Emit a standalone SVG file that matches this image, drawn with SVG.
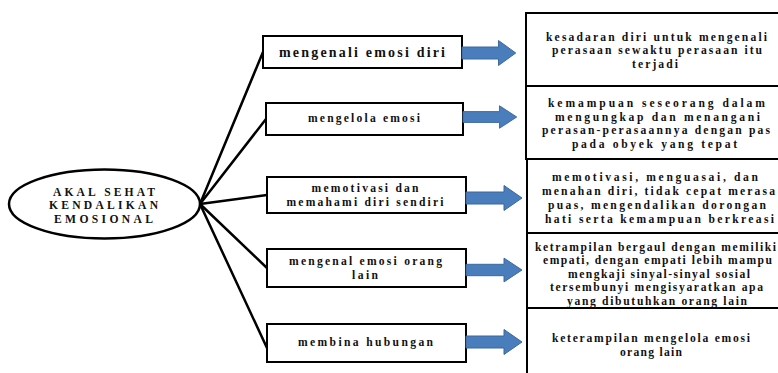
<svg xmlns="http://www.w3.org/2000/svg" width="778" height="373" viewBox="0 0 778 373">
<style>
.t{font-family:"Liberation Serif","Times New Roman",serif;font-weight:bold;fill:#111;text-anchor:middle}
.s{font-size:11.6px}
.m{font-size:14px}
.box{fill:#fff;stroke:#000;stroke-width:2}
.con{stroke:#000;stroke-width:2.5;fill:none;stroke-linecap:round}
.arr{fill:#4a7dbb;stroke:#3b679c;stroke-width:1}
</style>
<defs>
<path id="ar" d="M0,-6 H38 V-12.5 L56,0 L38,12.5 V6 H0 Z"/>
</defs>
<rect width="778" height="373" fill="#fff"/>
<g id="connectors">
<line class="con" x1="200" y1="204" x2="263" y2="52"/>
<line class="con" x1="200" y1="204" x2="266" y2="119"/>
<line class="con" x1="200" y1="204" x2="267" y2="195"/>
<line class="con" x1="200" y1="204" x2="267" y2="268"/>
<line class="con" x1="200" y1="204" x2="267" y2="348"/>
</g>
<g id="root">
<ellipse cx="104.5" cy="204" rx="95.5" ry="34.5" fill="#fff" stroke="#000" stroke-width="2.5"/>
<text class="t s" x="104" y="195.5" textLength="102" lengthAdjust="spacing">AKAL SEHAT</text>
<text class="t s" x="103.5" y="209" textLength="109" lengthAdjust="spacing">KENDALIKAN</text>
<text class="t s" x="103.5" y="222.5" textLength="99" lengthAdjust="spacing">EMOSIONAL</text>
</g>
<g id="n1">
<rect class="box" x="263" y="36" width="199" height="32"/>
<text class="t m" x="362" y="57" textLength="166" lengthAdjust="spacing">mengenali emosi diri</text>
</g>
<g id="n2">
<rect class="box" x="266" y="103" width="197" height="32"/>
<text class="t s" x="364" y="122" textLength="112" lengthAdjust="spacing">mengelola emosi</text>
</g>
<g id="n3">
<rect class="box" x="267" y="177" width="199" height="36"/>
<text class="t s" x="365" y="191.5" textLength="107" lengthAdjust="spacing">memotivasi dan</text>
<text class="t s" x="365" y="206" textLength="157" lengthAdjust="spacing">memahami diri sendiri</text>
</g>
<g id="n4">
<rect class="box" x="267" y="249" width="199" height="38"/>
<text class="t s" x="365.5" y="264.5" textLength="153" lengthAdjust="spacing">mengenal emosi orang</text>
<text class="t s" x="365" y="278.5" textLength="26" lengthAdjust="spacing">lain</text>
</g>
<g id="n5">
<rect class="box" x="267" y="324" width="199" height="38"/>
<text class="t s" x="365.5" y="346" textLength="135" lengthAdjust="spacing">membina hubungan</text>
</g>
<g id="arrows">
<use href="#ar" class="arr" transform="translate(462,53) scale(0.96,1)"/>
<use href="#ar" class="arr" transform="translate(463,117) scale(0.96,0.9)"/>
<use href="#ar" class="arr" transform="translate(466,198)"/>
<use href="#ar" class="arr" transform="translate(466,270) scale(1,0.95)"/>
<use href="#ar" class="arr" transform="translate(466,342)"/>
</g>
<g id="d1">
<rect class="box" x="526" y="13" width="260" height="73"/>
<text class="t s" x="656.5" y="40.5" textLength="221" lengthAdjust="spacing">kesadaran diri untuk mengenali</text>
<text class="t s" x="657" y="54" textLength="210" lengthAdjust="spacing">perasaan sewaktu perasaan itu</text>
<text class="t s" x="655" y="67.5" textLength="46" lengthAdjust="spacing">terjadi</text>
</g>
<g id="d2">
<rect class="box" x="526" y="86" width="260" height="73"/>
<text class="t s" x="656.5" y="107" textLength="217" lengthAdjust="spacing">kemampuan seseorang dalam</text>
<text class="t s" x="657.5" y="120.5" textLength="205" lengthAdjust="spacing">mengungkap dan menangani</text>
<text class="t s" x="656" y="134" textLength="228" lengthAdjust="spacing">perasan-perasaannya dengan pas</text>
<text class="t s" x="654.5" y="147.5" textLength="165" lengthAdjust="spacing">pada obyek yang tepat</text>
</g>
<g id="d3">
<rect class="box" x="527" y="159" width="259" height="74"/>
<text class="t s" x="655" y="181" textLength="206" lengthAdjust="spacing">memotivasi, menguasai, dan</text>
<text class="t s" x="658.5" y="195" textLength="233" lengthAdjust="spacing">menahan diri, tidak cepat merasa</text>
<text class="t s" x="657" y="209" textLength="218" lengthAdjust="spacing">puas, mengendalikan dorongan</text>
<text class="t s" x="659.5" y="223" textLength="229" lengthAdjust="spacing">hati serta kemampuan berkreasi</text>
</g>
<g id="d4">
<rect class="box" x="527" y="233" width="259" height="75"/>
<text class="t s" x="655.5" y="250.5" textLength="241" lengthAdjust="spacing">ketrampilan bergaul dengan memiliki</text>
<text class="t s" x="657.5" y="264" textLength="229" lengthAdjust="spacing">empati, dengan empati lebih mampu</text>
<text class="t s" x="659" y="277.5" textLength="182" lengthAdjust="spacing">mengkaji sinyal-sinyal sosial</text>
<text class="t s" x="656.5" y="291" textLength="213" lengthAdjust="spacing">tersembunyi mengisyaratkan apa</text>
<text class="t s" x="657" y="304.5" textLength="180" lengthAdjust="spacing">yang dibutuhkan orang lain</text>
</g>
<g id="d5">
<rect class="box" x="527" y="308" width="259" height="80"/>
<text class="t s" x="651" y="342" textLength="198" lengthAdjust="spacing">keterampilan mengelola emosi</text>
<text class="t s" x="651" y="356" textLength="62" lengthAdjust="spacing">orang lain</text>
</g>
</svg>
